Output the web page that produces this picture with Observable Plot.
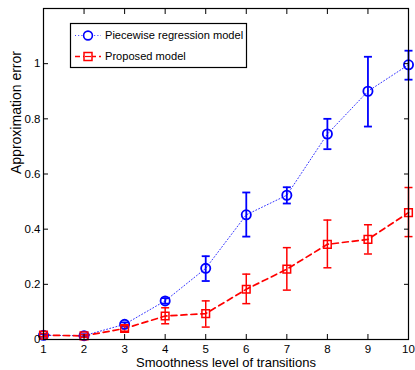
<!DOCTYPE html>
<html><head><meta charset="utf-8">
<script src="https://cdn.jsdelivr.net/npm/d3@7"></script>
<script src="https://cdn.jsdelivr.net/npm/@observablehq/plot@0.6"></script>
<style>
html,body{margin:0;padding:0;background:#fff;}
#chart{width:415px;height:370px;}
</style></head><body><div id="chart"></div>
<script>
const levels = [1, 2, 3, 4, 5, 6, 7, 8, 9, 10];
const seriesNames = ["Piecewise regression model", "Proposed model"];
const piecewiseMean = [0.015, 0.014, 0.055, 0.140, 0.258, 0.452, 0.523, 0.745, 0.900, 0.996];
const piecewiseLow  = [0.010, 0.009, 0.048, 0.130, 0.212, 0.373, 0.493, 0.690, 0.772, 0.942];
const piecewiseHigh = [0.020, 0.019, 0.062, 0.150, 0.302, 0.533, 0.552, 0.800, 1.025, 1.047];
const proposedMean  = [0.016, 0.013, 0.040, 0.085, 0.094, 0.182, 0.255, 0.345, 0.363, 0.460];
const proposedLow   = [0.010, 0.008, 0.030, 0.057, 0.045, 0.130, 0.179, 0.260, 0.310, 0.373];
const proposedHigh  = [0.022, 0.018, 0.050, 0.115, 0.140, 0.237, 0.333, 0.433, 0.416, 0.551];
const yTicks = [0, 0.2, 0.4, 0.6, 0.8, 1];
const yTickLabels = ["0", "0.2", "0.4", "0.6", "0.8", "1"];
const xLabel = "Smoothness level of transitions";
const yLabel = "Approximation error";

const blue = "#0000ff", red = "#ff0000";
const piecewise = levels.map((x, i) => ({x, mean: piecewiseMean[i], low: piecewiseLow[i], high: piecewiseHigh[i]}));
const proposed = levels.map((x, i) => ({x, mean: proposedMean[i], low: proposedLow[i], high: proposedHigh[i]}));

const cap = {draw(ctx, size) { const r = Math.sqrt(size / Math.PI); ctx.moveTo(-r, 0); ctx.lineTo(r, 0); }};

function errMarks(data, color, sw) {
  return [
    Plot.ruleX(data, {x: "x", y1: "low", y2: "high", stroke: color, strokeWidth: sw}),
    Plot.dot(data, {x: "x", y: "low", symbol: cap, r: 4, stroke: color, strokeWidth: sw}),
    Plot.dot(data, {x: "x", y: "high", symbol: cap, r: 4, stroke: color, strokeWidth: sw})
  ];
}

const plot = Plot.plot({
  width: 415, height: 370,
  marginLeft: 43, marginRight: 7, marginTop: 8, marginBottom: 31,
  style: {fontFamily: "'Liberation Sans', Arial, sans-serif", fontSize: "11.5px", color: "black", background: "white"},
  x: {domain: [1, 10]},
  y: {domain: [0, 1.2]},
  marks: [
    Plot.line(piecewise, {x: "x", y: "mean", stroke: blue, strokeWidth: 1, strokeDasharray: "1,2.2", strokeOpacity: 0.8}),
    Plot.line(proposed, {x: "x", y: "mean", stroke: red, strokeWidth: 1.7, strokeDasharray: "6,4"}),
    ...errMarks(piecewise, blue, 1.8),
    ...errMarks(proposed, red, 1.5),
    Plot.dot(piecewise, {x: "x", y: "mean", r: 4.6, stroke: blue, strokeWidth: 1.8, fill: "none"}),
    Plot.dot(proposed, {x: "x", y: "mean", symbol: "square", r: 4.3, stroke: red, strokeWidth: 1.5, fill: "none"}),
    Plot.frame({stroke: "black", strokeWidth: 1.2}),
    Plot.axisX({anchor: "bottom", ticks: levels, tickSize: -5, tickPadding: 10, tickFormat: d => String(d), label: null, strokeWidth: 1}),
    Plot.axisX({anchor: "top", ticks: levels, tickSize: -5, tickFormat: () => "", label: null}),
    Plot.axisY({anchor: "left", ticks: yTicks, tickSize: -5, tickPadding: 8, tickFormat: (d, i) => yTickLabels[i], label: null}),
    Plot.axisY({anchor: "right", ticks: yTicks, tickSize: -5, tickFormat: () => "", label: null}),
    Plot.text([xLabel], {frameAnchor: "bottom", dy: 23, lineAnchor: "middle", fontSize: 13, fill: "black"}),
    Plot.text([yLabel], {frameAnchor: "left", dx: -27, rotate: -90, lineAnchor: "middle", fontSize: 14, fill: "black"})
  ]
});
document.getElementById("chart").appendChild(plot);

// legend
const svg = d3.select(plot);
const lg = svg.append("g").attr("font-family", "'Liberation Sans', Arial, sans-serif").attr("font-size", "11.1px").attr("text-anchor", "start");
lg.append("rect").attr("x", 70.5).attr("y", 23.5).attr("width", 176).attr("height", 44)
  .attr("fill", "white").attr("stroke", "black").attr("stroke-width", 1.2);
// row 1
lg.append("line").attr("x1", 75).attr("x2", 101).attr("y1", 35.5).attr("y2", 35.5)
  .attr("stroke", blue).attr("stroke-width", 1).attr("stroke-dasharray", "1,2.2").attr("stroke-opacity", 0.8);
lg.append("circle").attr("cx", 88).attr("cy", 35.5).attr("r", 4.4).attr("fill", "white").attr("stroke", blue).attr("stroke-width", 1.6);
lg.append("text").attr("x", 105).attr("y", 35.5).attr("dy", "0.35em").attr("text-anchor", "start").text(seriesNames[0]);
// row 2
lg.append("line").attr("x1", 75).attr("x2", 101).attr("y1", 56.5).attr("y2", 56.5)
  .attr("stroke", red).attr("stroke-width", 1.7).attr("stroke-dasharray", "5,3");
lg.append("rect").attr("x", 84).attr("y", 52.5).attr("width", 8).attr("height", 8).attr("fill", "white").attr("stroke", red).attr("stroke-width", 1.5);
lg.append("line").attr("x1", 85).attr("x2", 91).attr("y1", 56.5).attr("y2", 56.5).attr("stroke", red).attr("stroke-width", 1.2);
lg.append("text").attr("x", 105).attr("y", 56.5).attr("dy", "0.35em").attr("text-anchor", "start").text(seriesNames[1]);
</script>
</body></html>
